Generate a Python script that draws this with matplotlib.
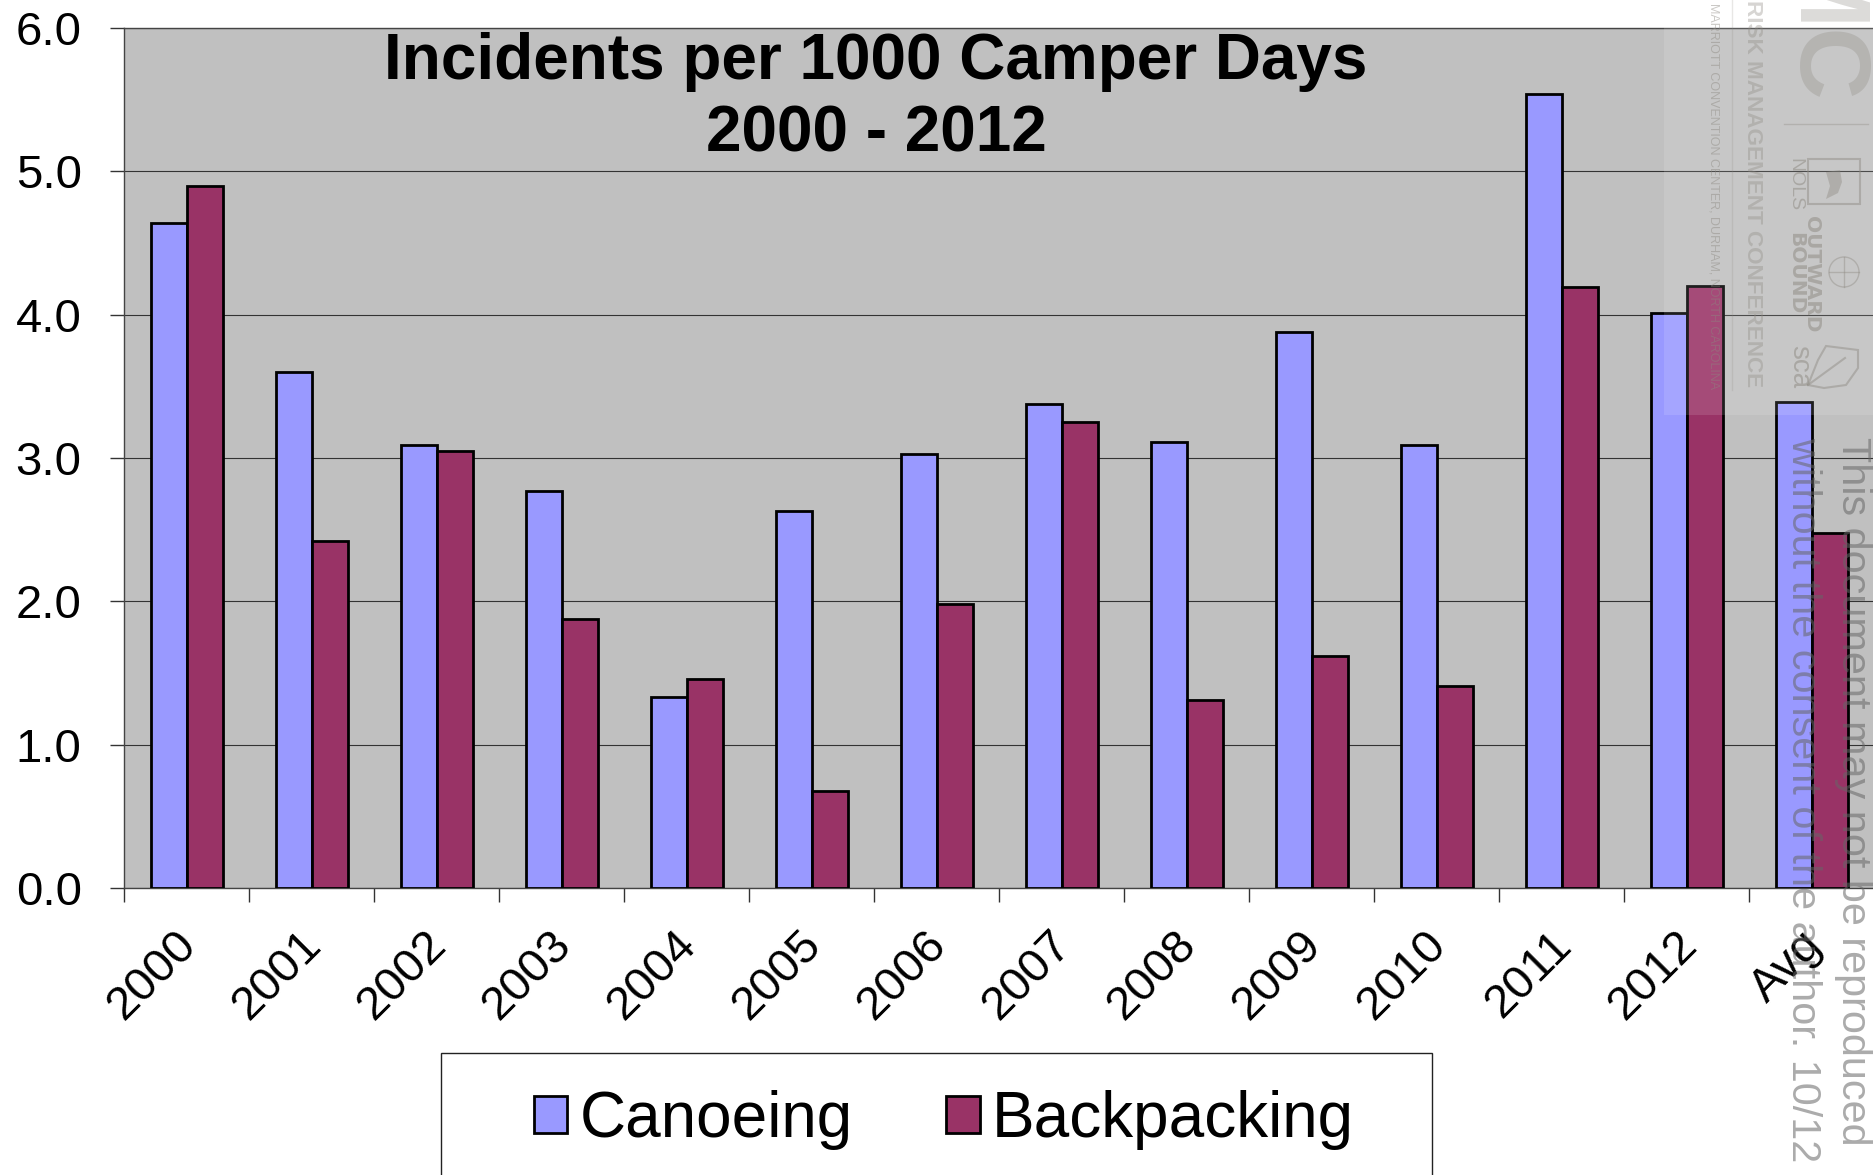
import matplotlib
matplotlib.use('Agg')
import matplotlib.pyplot as plt
import numpy as np
from matplotlib.patches import Circle, Polygon, Rectangle
from matplotlib.transforms import ScaledTranslation

plt.rcParams['font.family'] = ['Liberation Sans', 'DejaVu Sans']

years = ['2000', '2001', '2002', '2003', '2004', '2005', '2006',
         '2007', '2008', '2009', '2010', '2011', '2012', 'Avg']
canoeing = [4.64, 3.60, 3.09, 2.77, 1.33, 2.63, 3.03,
            3.38, 3.11, 3.88, 3.09, 5.54, 4.01, 3.39]
backpacking = [4.90, 2.42, 3.05, 1.88, 1.46, 0.68, 1.98,
               3.25, 1.31, 1.62, 1.41, 4.19, 4.20, 2.48]
y_ticks = [0, 1, 2, 3, 4, 5, 6]

W, H = 1874, 1175
fig = plt.figure(figsize=(W / 100, H / 100), dpi=100)
ax = fig.add_axes([124 / W, 1 - 888 / H, (W - 124) / W, 860 / H])
ax.set_facecolor('#c0c0c0')

x = np.arange(len(years))
bar_w = 0.288
b1 = ax.bar(x + 0.502 - bar_w / 2, canoeing, bar_w, color='#9999ff',
            edgecolor='black', linewidth=2.0, label='Canoeing', zorder=3)
b2 = ax.bar(x + 0.502 + bar_w / 2, backpacking, bar_w, color='#993366',
            edgecolor='black', linewidth=2.0, label='Backpacking', zorder=3)

ax.set_xlim(0, len(years))
ax.set_ylim(0, 6)
ax.set_yticks(y_ticks)
ax.set_yticklabels(['%.1f' % v for v in y_ticks], fontsize=34)
ax.set_xticks(np.arange(len(years) + 1))
ax.set_xticklabels([])
ax.set_xticks(x + 0.5, minor=True)
ax.set_xticklabels(years, minor=True, fontsize=34, rotation=45,
                   ha='right', va='top', rotation_mode='anchor')
ax.tick_params(axis='x', which='major', length=10, width=1, color='#333333')
ax.tick_params(axis='x', which='minor', length=0, pad=25)
ax.tick_params(axis='y', length=10, width=1, color='#333333', pad=20.5)
shift = ScaledTranslation(-12 / 100, 0, fig.dpi_scale_trans)
for lab in ax.get_xticklabels(minor=True):
    lab.set_transform(lab.get_transform() + shift)
ax.grid(axis='y', color='#333333', linewidth=0.8, zorder=1)
ax.set_axisbelow(True)
ax.spines['right'].set_visible(False)
for side in ['left', 'bottom', 'top']:
    ax.spines[side].set_color('#444444')
    ax.spines[side].set_linewidth(1)

fig.text(876 / W, 1 - 62 / H, 'Incidents per 1000 Camper Days', fontsize=46,
         fontweight='bold', ha='center', va='center')
fig.text(876 / W, 1 - 135 / H, '2000 - 2012', fontsize=46,
         fontweight='bold', ha='center', va='center')

# overlay in pixel coords for legend box and the watermark
ov = fig.add_axes([0, 0, 1, 1], zorder=5)
ov.set_xlim(0, W)
ov.set_ylim(H, 0)
ov.axis('off')

ov.add_patch(Rectangle((441, 1053), 991, 140, facecolor='white',
                       edgecolor='#222222', linewidth=1))
ov.legend(handles=[b1, b2], labels=['Canoeing', 'Backpacking'], ncol=2,
          frameon=False, fontsize=46, loc='center left',
          bbox_to_anchor=(534, 1120), bbox_transform=ov.transData,
          borderpad=0, borderaxespad=0, handlelength=0.52, handleheight=0.52,
          handletextpad=0.19, columnspacing=1.47)

# watermark panel
wm = '#8c8880'
ov.add_patch(Rectangle((1664, 0), 210, 415, facecolor='white', alpha=0.12,
                       edgecolor='none'))
ov.text(1742, 0, 'RISK MANAGEMENT CONFERENCE', rotation=-90, fontsize=16.2,
        fontweight='bold', color=wm, alpha=0.35, ha='left', va='top')
ov.text(1708, 3, 'MARRIOTT CONVENTION CENTER, DURHAM, NORTH CAROLINA',
        rotation=-90, fontsize=9, color=wm, alpha=0.45, ha='left', va='top')
ov.text(1772, 106, 'MC', rotation=-90, fontsize=72, fontweight='bold',
        color=wm, alpha=0.3, ha='left', va='bottom')
ov.plot([1732, 1732], [0, 390], color=wm, alpha=0.2, linewidth=1)
ov.plot([1784, 1868], [124, 124], color=wm, alpha=0.35, linewidth=1)
ov.text(1786, 158, 'NOLS', rotation=-90, fontsize=14, color=wm, alpha=0.5,
        ha='left', va='top')
ov.text(1802, 216, 'OUTWARD', rotation=-90, fontsize=14.5, fontweight='bold',
        family='DejaVu Sans', color=wm, alpha=0.5, ha='left', va='top')
ov.text(1786, 232, 'BOUND', rotation=-90, fontsize=14.5, fontweight='bold',
        family='DejaVu Sans', color=wm, alpha=0.5, ha='left', va='top')
ov.text(1786, 345, 'sca', rotation=-90, fontsize=20, color=wm, alpha=0.5,
        ha='left', va='top')

# logos, roughly
ov.add_patch(Rectangle((1808, 159), 52, 45, facecolor='none', edgecolor=wm,
                       alpha=0.45, linewidth=1.5))
ov.add_patch(Polygon([(1826, 172), (1840, 170), (1842, 182), (1838, 193),
                      (1826, 199), (1830, 186)], facecolor=wm, alpha=0.4,
                     edgecolor='none'))
ov.add_patch(Circle((1844, 272), 15, facecolor='none', edgecolor=wm,
                    alpha=0.4, linewidth=1))
ov.plot([1829, 1859], [272, 272], color=wm, alpha=0.4, linewidth=1)
ov.plot([1844, 1844], [257, 287], color=wm, alpha=0.4, linewidth=1)
ov.add_patch(Polygon([(1808, 385), (1818, 360), (1826, 346), (1858, 350),
                      (1858, 368), (1846, 385), (1824, 388)], facecolor='none',
                     edgecolor=wm, alpha=0.45, linewidth=1.5))
ov.plot([1808, 1845], [385, 358], color=wm, alpha=0.45, linewidth=1.5)

ov.text(1834, 437, 'This document may not be reproduced', rotation=-90,
        fontsize=29.8, color='#666666', alpha=0.55, ha='left', va='top')
ov.text(1784, 437, 'without the consent of the author. 10/12', rotation=-90,
        fontsize=29.8, color='#666666', alpha=0.55, ha='left', va='top')

fig.savefig('out.png', dpi=100)
